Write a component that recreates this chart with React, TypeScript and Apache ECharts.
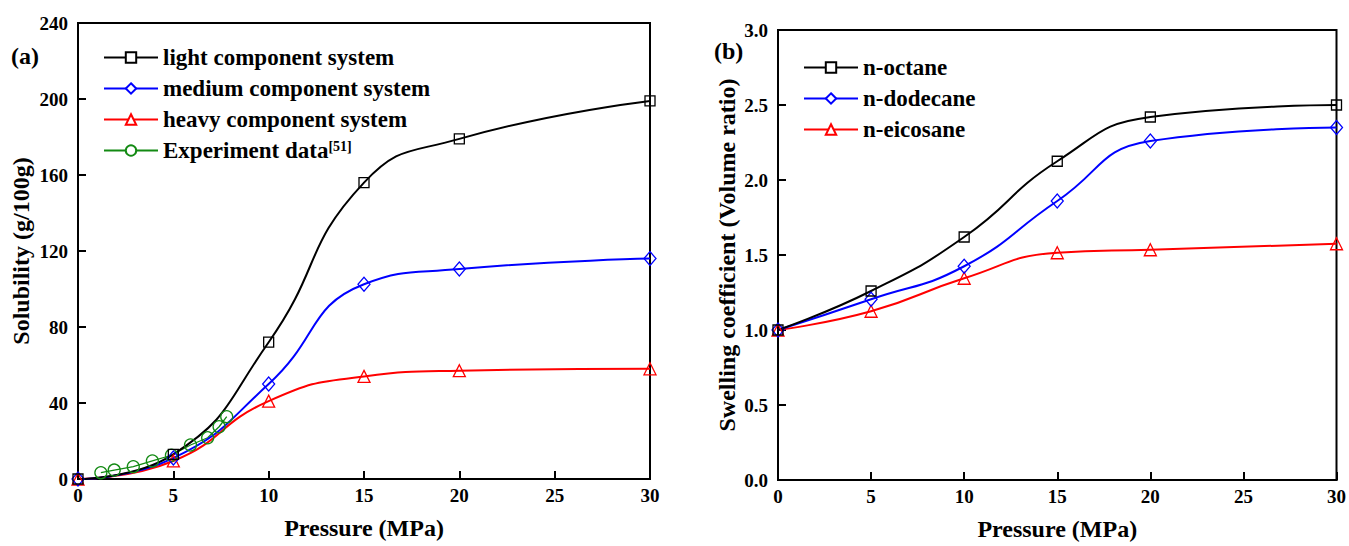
import React, { useEffect, useRef } from "react";
import * as echarts from "echarts";

const pressure = [0, 5, 10, 15, 20, 30];
const lightSol = [0, 13, 72, 156, 179, 199];
const mediumSol = [0, 11, 50, 102.5, 110.5, 116];
const heavySol = [0, 9.5, 41, 54, 57, 58];
const expP = [1.2, 1.9, 2.9, 3.9, 4.9, 5.9, 6.8, 7.4, 7.8];
const expSol = [3.3, 4.7, 6.5, 9.5, 12.5, 17.9, 21.7, 27.5, 32.8];

const octane = [1.0, 1.26, 1.62, 2.125, 2.42, 2.5];
const dodecane = [1.0, 1.205, 1.425, 1.86, 2.26, 2.35];
const eicosane = [1.0, 1.125, 1.345, 1.515, 1.535, 1.575];

const FONT = "'Liberation Serif', 'Times New Roman', serif";

const pair = (xs: number[], ys: number[]) => xs.map((x, i) => [x, ys[i]]);

export default function App() {
  const ref = useRef<HTMLDivElement>(null);
  useEffect(() => {
    if (!ref.current) return;
    const chart = echarts.init(ref.current, undefined, { renderer: "svg" });
    const axisCommon = {
      axisLine: { show: true, onZero: false, lineStyle: { color: "#000", width: 2 } },
      axisTick: { show: true, inside: true, length: 8, lineStyle: { color: "#000", width: 2 } },
      splitLine: { show: false },
      axisLabel: { color: "#000", fontFamily: FONT, fontWeight: "bold", fontSize: 19, margin: 10 },
      nameLocation: "middle" as const,
      nameTextStyle: { color: "#000", fontFamily: FONT, fontWeight: "bold", fontSize: 24 },
    };
    const xLabel = { ...axisCommon.axisLabel, margin: 7 };
    const lineSeries = (name: string, data: number[][], color: string, symbol: string, size: any, xi: number, smooth: any = 0.5, width = 2) => ({
      name,
      type: "line",
      xAxisIndex: xi,
      yAxisIndex: xi,
      data,
      smooth,
      symbol,
      symbolSize: size,
      showAllSymbol: true,
      clip: true,
      lineStyle: { color, width },
      itemStyle: { color: "rgba(255,255,255,0)", borderColor: color, borderWidth: 1.3 },
      z: 3,
    });
    const legendCommon = {
      orient: "vertical" as const,
      itemWidth: 54,
      itemHeight: 13,
      itemGap: 8,
      textStyle: {
        color: "#000",
        fontFamily: FONT,
        fontWeight: "bold",
        fontSize: 23,
        lineHeight: 22,
        rich: {
          sup: { fontFamily: FONT, fontWeight: "bold", fontSize: 14, verticalAlign: "top", lineHeight: 22, padding: [0, 0, 10, 0] },
        },
      },
      itemStyle: { color: "#fff" },
    };
    chart.setOption({
      animation: false,
      backgroundColor: "#fff",
      grid: [
        { left: 78, top: 23, width: 572, height: 456, show: true, borderColor: "#000", borderWidth: 2, backgroundColor: "transparent" },
        { left: 778, top: 30, width: 559, height: 450, show: true, borderColor: "#000", borderWidth: 2, backgroundColor: "transparent" },
      ],
      xAxis: [
        { ...axisCommon, axisLabel: xLabel, type: "value", gridIndex: 0, min: 0, max: 30, interval: 5, name: "Pressure (MPa)", nameGap: 37 },
        { ...axisCommon, axisLabel: xLabel, type: "value", gridIndex: 1, min: 0, max: 30, interval: 5, name: "Pressure (MPa)", nameGap: 37 },
      ],
      yAxis: [
        { ...axisCommon, type: "value", gridIndex: 0, min: 0, max: 240, interval: 40, name: "Solubility (g/100g)", nameGap: 45 },
        {
          ...axisCommon, type: "value", gridIndex: 1, min: 0, max: 3, interval: 0.5, name: "Swelling coefficient (Volume ratio)", nameGap: 39,
          axisLabel: { ...axisCommon.axisLabel, formatter: (v: number) => v.toFixed(1) },
        },
      ],
      legend: [
        {
          ...legendCommon,
          left: 98,
          top: 41,
          data: ["light component system", "medium component system", "heavy component system", "Experiment data"],
          formatter: (n: string) => (n === "Experiment data" ? "Experiment data{sup|[51]}" : n),
        },
        {
          ...legendCommon,
          left: 798,
          top: 51,
          data: ["n-octane", "n-dodecane", "n-eicosane"],
        },
      ],
      graphic: [
        { type: "text", left: 11, top: 44, style: { text: "(a)", font: `bold 24px ${FONT}`, fill: "#000" } },
        { type: "text", left: 714, top: 39, style: { text: "(b)", font: `bold 24px ${FONT}`, fill: "#000" } },
      ],
      series: [
        lineSeries("Experiment data", pair(expP, expSol), "#138a13", "circle", 12, 0, false, 1.3),
        lineSeries("heavy component system", pair(pressure, heavySol), "#ff0000", "triangle", 12, 0),
        lineSeries("medium component system", pair(pressure, mediumSol), "#0000ff", "diamond", [12, 14], 0),
        lineSeries("light component system", pair(pressure, lightSol), "#000000", "rect", 10, 0),
        lineSeries("n-eicosane", pair(pressure, eicosane), "#ff0000", "triangle", 12, 1),
        lineSeries("n-dodecane", pair(pressure, dodecane), "#0000ff", "diamond", [12, 14], 1),
        lineSeries("n-octane", pair(pressure, octane), "#000000", "rect", 10, 1),
      ],
    });
    return () => chart.dispose();
  }, []);
  return <div ref={ref} style={{ position: "fixed", left: 0, top: 0, width: 1349, height: 546 }} />;
}
